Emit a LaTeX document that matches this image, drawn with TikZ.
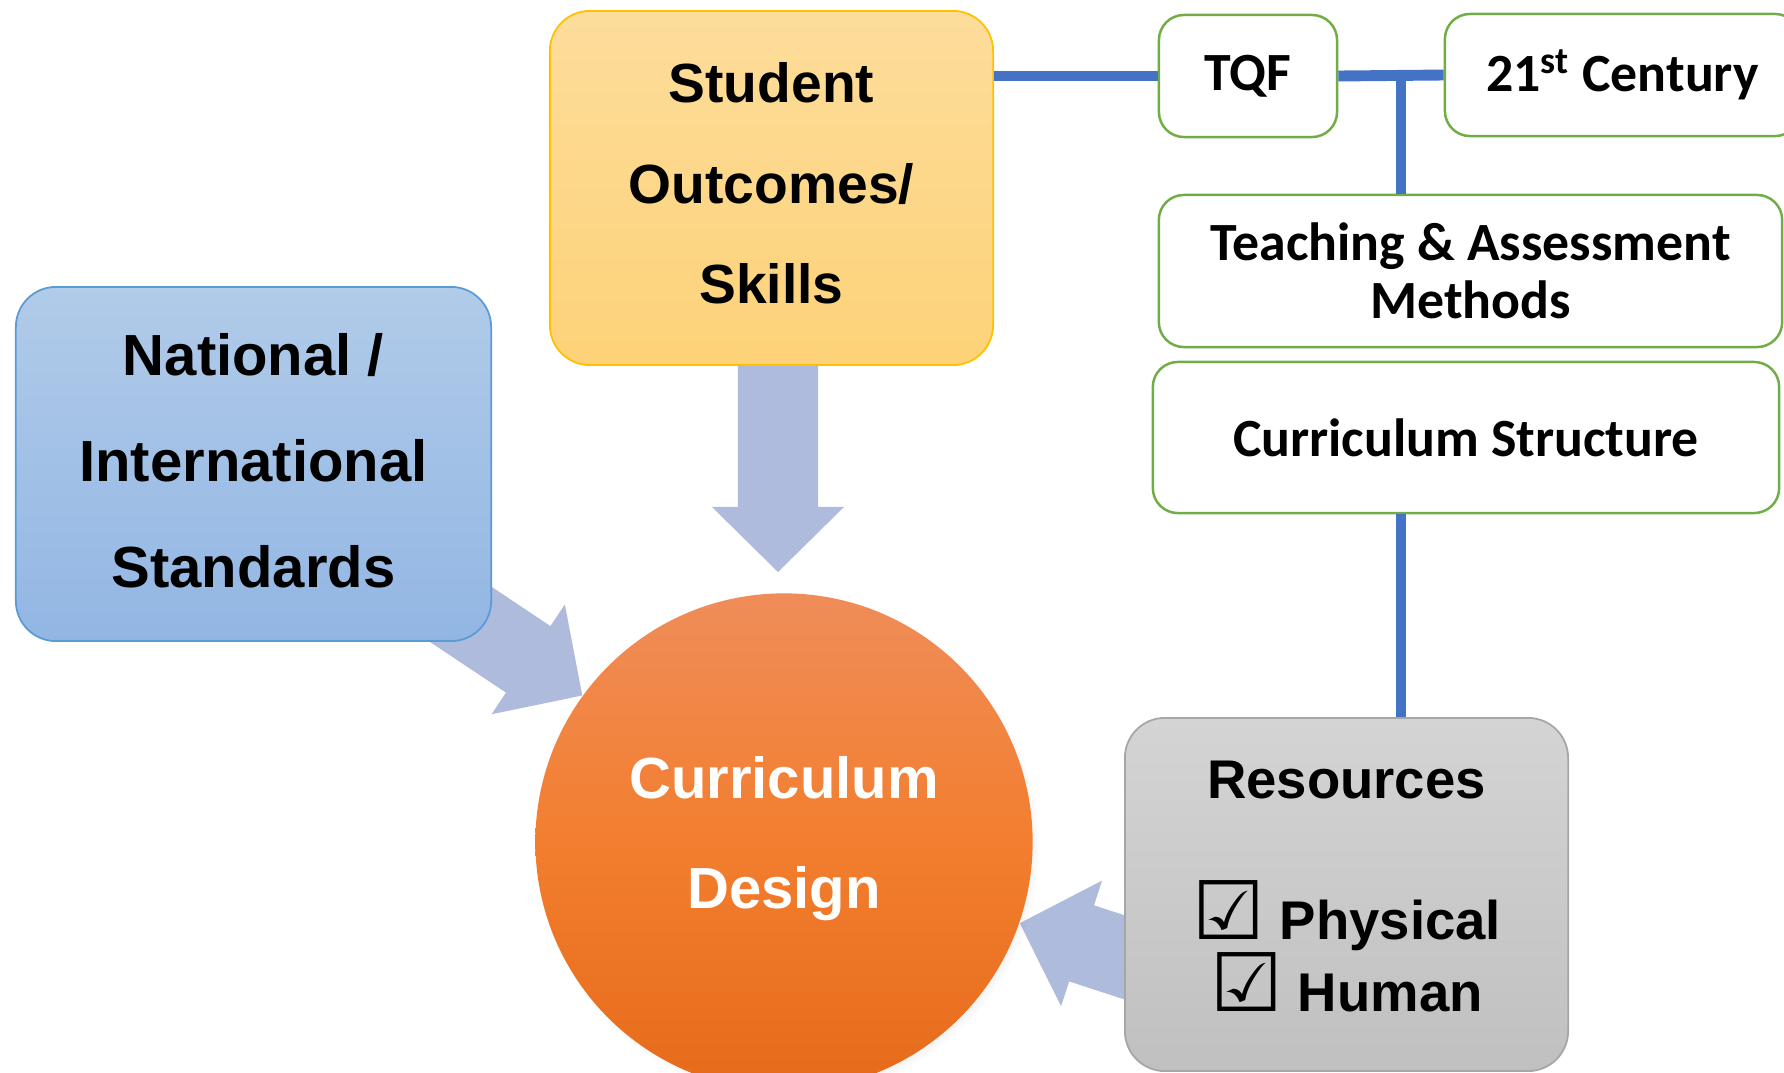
\documentclass[tikz,border=0pt]{standalone}
\usepackage{fontspec}
\setmainfont{Liberation Sans}
\newfontfamily\calfont{Carlito}
\newfontfamily\symfont{DejaVu Sans}
\usetikzlibrary{calc,shadows,positioning}
\pgfdeclarelayer{background}
\pgfsetlayers{background,main}

\definecolor{linkblue}{HTML}{4472C4}
\definecolor{boxgreen}{HTML}{70AD47}
\definecolor{arrowfill}{HTML}{AFBBDD}
\definecolor{nattop}{HTML}{B1CBE9}
\definecolor{natbot}{HTML}{92B6E3}
\definecolor{natborder}{HTML}{5B9BD5}
\definecolor{stutop}{HTML}{FDDD9B}
\definecolor{stubot}{HTML}{FDD278}
\definecolor{stuborder}{HTML}{FFC000}
\definecolor{destop}{HTML}{EF8D59}
\definecolor{desmid}{HTML}{F37E2F}
\definecolor{desbot}{HTML}{E56B1A}
\definecolor{restop}{HTML}{D4D4D4}
\definecolor{resbot}{HTML}{C0C0C0}
\definecolor{resborder}{HTML}{A6A6A6}

\tikzset{
  bigarrow/.style={fill=arrowfill, draw=none},
  link/.style={draw=linkblue, line width=3.1pt},
  bigbox/.style={rounded corners=0.4cm, line width=0.5pt, align=center, inner sep=0pt},
  greenbox/.style={draw=boxgreen, line width=0.7pt, fill=white, rounded corners=0.25cm,
    align=center, inner sep=0pt, font=\calfont\bfseries\fontsize{15.3}{16.5}\selectfont},
}

% tick box in front of a resource
\newcommand{\tickbox}{{\symfont\bfseries\fontsize{23}{20}\selectfont\smash{☑}}}

% block arrow from #1 to #2 (shaft, then head)
\newcommand{\bigArrow}[2]{%
  \coordinate (ah) at ($(#2)!0.65cm!(#1)$);
  \fill[bigarrow] ($(#1)!0.4cm!90:(#2)$) -- ($(ah)!0.4cm!90:(#2)$) -- ($(ah)!0.66cm!90:(#2)$) -- (#2)
    -- ($(ah)!0.66cm!-90:(#2)$) -- ($(ah)!0.4cm!-90:(#2)$) -- ($(#1)!0.4cm!-90:(#2)$) -- cycle;
}

\begin{document}
\begin{tikzpicture}[x=0.01cm,y=-0.01cm]
    \useasboundingbox (0,0) rectangle (1784,1072);
    \clip (0,0) rectangle (1784,1072);

    \node[bigbox, draw=natborder, top color=nattop, bottom color=natbot, minimum width=4.75cm, minimum height=3.54cm,
      text depth=2pt, font=\bfseries\fontsize{16.5}{30.2}\selectfont] (national) at (253.5,464) {National /\\International\\Standards};
    \node[bigbox, draw=stuborder, top color=stutop, bottom color=stubot, minimum width=4.43cm, minimum height=3.54cm,
      text depth=2.8pt, font=\bfseries\fontsize{15.7}{28.5}\selectfont] (student) at (771.5,188) {Student\\Outcomes/\\Skills};
    \node[circle, top color=destop, bottom color=desbot, middle color=desmid, minimum size=4.97cm, inner sep=0pt,
      text=white, align=center, text depth=5.5pt, font=\bfseries\fontsize{16.5}{31.3}\selectfont,
      circular drop shadow={shadow scale=1.01, shadow xshift=0.04cm, shadow yshift=-0.05cm, opacity=0.35}]
      (design) at (784,842) {Curriculum\\Design};
    \node[bigbox, draw=resborder, top color=restop, bottom color=resbot, minimum width=4.43cm, minimum height=3.53cm,
      text depth=4.6pt, font=\bfseries\fontsize{15.5}{20.5}\selectfont] (resources) at (1346.5,894.5)
      {Resources\\[19.4pt]\tickbox{} Physical\\\tickbox{} Human};

    \node[greenbox, minimum width=1.78cm, minimum height=1.22cm] (tqf) at (1248,76) {TQF};
    \node[greenbox, minimum width=3.55cm, minimum height=1.22cm] (century) at (1622.5,75) {21\textsuperscript{st} Century};
    \node[greenbox, minimum width=6.23cm, minimum height=1.52cm] (teaching) at (1470.5,271) {Teaching \& Assessment\\Methods};
    \node[greenbox, minimum width=6.26cm, minimum height=1.51cm] (structure) at (1466,437.5) {Curriculum Structure};

    \coordinate (junc) at (1401,75);
    \draw[link] (student.east |- tqf.west) -- (tqf.west);
    \draw[link] (tqf.east) -- (century.west);
    \draw[link] (junc) -- (junc |- teaching.north);
    \draw[link] (junc |- structure.south) -- (junc |- resources.north);

    \coordinate (dtip) at (778,572);
    \coordinate (dtail) at (student.center -| dtip);
    \coordinate (ntail) at (300,507);
    \coordinate (ntip) at (design.144.7);
    \coordinate (rtail) at (1200,982);
    \coordinate (rtip) at (design.341);
    \begin{pgfonlayer}{background}
      \bigArrow{dtail}{dtip}
      \bigArrow{ntail}{ntip}
      \bigArrow{rtail}{rtip}
    \end{pgfonlayer}
\end{tikzpicture}
\end{document}
